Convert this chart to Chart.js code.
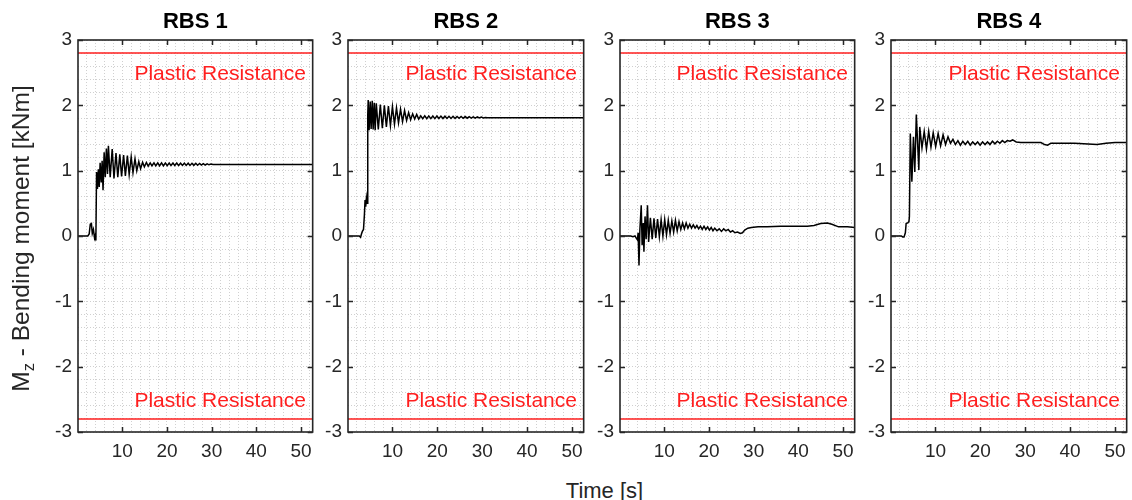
<!DOCTYPE html>
<html>
<head>
<meta charset="utf-8">
<script src="https://cdn.jsdelivr.net/npm/chart.js@4/dist/chart.umd.min.js"></script>
<style>
  html, body { margin: 0; padding: 0; background: #fff; }
  body { width: 1132px; height: 500px; overflow: hidden; position: relative; }
  canvas { position: absolute; top: 0; }
  #xtitle { position: absolute; left: 78px; width: 1053px; top: 478px; line-height: 24px;
            text-align: center; font: 22px 'Liberation Sans', Arial, sans-serif; color: #262626; }
</style>
</head>
<body>
<div id="xtitle">Time [s]</div>
<script>
// ---------------- DATA ----------------
const panelTitles = ['RBS 1', 'RBS 2', 'RBS 3', 'RBS 4'];
const timeRange = [0.1, 52.6];            // s
const xTickLabels = [10, 20, 30, 40, 50];
const yTickLabels = [-3, -2, -1, 0, 1, 2, 3];
const plasticResistance = 2.8;            // kNm
const plasticLabel = 'Plastic Resistance';

// [time (s), Mz (kNm)]
const rbs1 = [
  [0.1,0],[2.3,0],[2.6,0.03],[2.85,0.18],[3.1,0.19],[3.3,0.04],[3.55,0.1],[3.8,-0.03],[4.0,0.02],[4.1,-0.07],
  [4.25,0.98],[4.45,0.72],[4.65,1.02],[4.85,0.75],[5.05,1.12],[5.3,0.82],[5.5,1.15],[5.7,0.7],[5.95,1.28],[6.2,0.9],
  [6.45,1.34],[6.7,0.95],[6.9,1.38],[7.3,0.9],[7.75,1.33],[8.15,0.88],[8.6,1.27],[9.0,0.9],[9.45,1.25],[9.85,0.91],
  [10.3,1.24],[10.7,0.92],[11.15,1.23],[11.55,0.94],[12.0,1.21],[12.4,0.97],[12.85,1.18],[13.25,1.0],[13.7,1.14],[14.1,1.03],
  [14.55,1.13],[14.95,1.06],[15.4,1.125],[15.8,1.07],[16.25,1.12],[16.65,1.075],[17.1,1.12],[17.5,1.075],[17.95,1.12],[18.35,1.075],
  [18.8,1.12],[19.2,1.075],[19.65,1.118],[20.05,1.077],[20.5,1.117],[20.9,1.078],[21.35,1.116],[21.75,1.078],[22.2,1.116],[22.6,1.078],
  [23.05,1.115],[23.45,1.08],[23.9,1.115],[24.3,1.08],[24.75,1.114],[25.15,1.08],[25.6,1.113],[26.0,1.082],[26.45,1.112],[26.85,1.083],
  [27.3,1.11],[27.7,1.085],[28.15,1.108],[28.55,1.087],[29.0,1.105],[29.4,1.09],[29.85,1.1],[30.3,1.095],[52.6,1.095]
];
const rbs2 = [
  [0.1,0],[2.6,0],[2.9,-0.02],[3.1,0.03],[3.3,0.07],[3.55,0.1],[3.75,0.32],[3.9,0.55],[4.05,0.45],[4.2,0.58],[4.35,0.5],
  [4.5,1.85],[4.6,2.08],[4.8,1.62],[5.05,2.06],[5.25,1.64],[5.5,2.07],[5.7,1.63],[5.95,2.04],[6.15,1.62],[6.4,2.03],
  [6.85,1.63],[7.3,2.01],[7.75,1.65],[8.2,2.0],[8.65,1.67],[9.1,1.99],[9.55,1.69],[10.0,1.98],[10.45,1.71],[10.9,1.96],
  [11.35,1.73],[11.8,1.94],[12.25,1.75],[12.7,1.92],[13.15,1.77],[13.6,1.89],[14.05,1.78],[14.5,1.87],[14.95,1.79],[15.4,1.86],
  [15.85,1.79],[16.3,1.84],[16.75,1.795],[17.2,1.84],[17.65,1.795],[18.1,1.838],[18.55,1.797],[19.0,1.837],[19.45,1.797],[19.9,1.836],
  [20.35,1.798],[20.8,1.835],[21.25,1.798],[21.7,1.834],[22.15,1.799],[22.6,1.833],[23.05,1.8],[23.5,1.832],[23.95,1.8],[24.4,1.83],
  [24.85,1.801],[25.3,1.829],[25.75,1.802],[26.2,1.828],[26.65,1.803],[27.1,1.826],[27.55,1.804],[28.0,1.824],[28.45,1.805],[28.9,1.822],
  [29.35,1.806],[29.8,1.82],[30.25,1.808],[30.7,1.815],[31.2,1.81],[52.6,1.81]
];
const rbs3 = [
  [0.1,0],[2.5,0],[3.0,-0.01],[3.45,0.0],[3.7,-0.03],[4.0,-0.06],[4.15,0.05],[4.35,-0.45],[4.55,0.1],[4.85,0.47],
  [5.05,-0.14],[5.3,0.2],[5.45,-0.24],[5.7,0.3],[5.95,-0.05],[6.25,0.47],[6.5,-0.09],[6.9,0.28],[7.3,-0.05],[7.7,0.27],
  [8.1,-0.03],[8.5,0.26],[8.9,-0.01],[9.3,0.25],[9.7,0.0],[10.1,0.25],[10.5,0.02],[10.9,0.24],[11.3,0.04],[11.7,0.23],
  [12.1,0.06],[12.5,0.24],[12.9,0.08],[13.3,0.22],[13.7,0.1],[14.1,0.2],[14.5,0.11],[14.9,0.2],[15.3,0.12],[15.7,0.18],
  [16.1,0.12],[16.5,0.17],[16.9,0.12],[17.3,0.16],[17.7,0.11],[18.1,0.15],[18.5,0.1],[18.9,0.15],[19.3,0.1],[19.7,0.14],
  [20.1,0.09],[20.5,0.13],[20.9,0.08],[21.3,0.12],[21.8,0.08],[22.3,0.11],[22.8,0.07],[23.3,0.11],[23.8,0.08],[24.3,0.1],
  [24.8,0.06],[25.3,0.08],[25.8,0.05],[26.4,0.06],[27.0,0.04],[27.5,0.05],[28.0,0.09],[28.7,0.12],[29.5,0.13],[31.0,0.14],
  [33.0,0.14],[36.0,0.15],[39.0,0.15],[42.0,0.15],[43.5,0.16],[45.0,0.19],[46.5,0.2],[47.5,0.18],[49.0,0.14],[51.0,0.14],[52.6,0.13]
];
const rbs4 = [
  [0.1,0],[2.4,0],[2.7,-0.015],[3.0,-0.015],[3.3,0.05],[3.47,0.19],[3.8,0.2],[4.1,0.22],[4.2,0.3],[4.4,1.57],
  [4.75,0.83],[5.1,1.52],[5.4,0.98],[5.74,1.86],[6.3,1.01],[6.5,1.67],[7.0,1.35],[7.5,1.6],[8.0,1.33],[8.5,1.6],
  [9.0,1.36],[9.5,1.58],[10.05,1.37],[10.6,1.57],[11.15,1.38],[11.7,1.55],[12.25,1.4],[12.8,1.52],[13.35,1.42],[13.9,1.48],
  [14.45,1.4],[15.0,1.46],[15.55,1.39],[16.1,1.45],[16.65,1.4],[17.2,1.45],[17.75,1.39],[18.3,1.44],[18.85,1.4],[19.4,1.44],
  [19.95,1.39],[20.5,1.44],[21.05,1.4],[21.6,1.44],[22.15,1.4],[22.7,1.45],[23.25,1.41],[23.8,1.45],[24.35,1.42],[24.9,1.46],
  [25.45,1.43],[26.0,1.46],[26.6,1.45],[27.2,1.47],[28.0,1.44],[29.0,1.43],[31.0,1.43],[33.5,1.43],[34.3,1.4],[35.0,1.39],
  [35.7,1.42],[38.0,1.42],[41.0,1.42],[44.0,1.41],[46.0,1.4],[48.0,1.42],[50.0,1.43],[52.6,1.43]
];
const series = [rbs1, rbs2, rbs3, rbs4];

// ---------------- LAYOUT / STYLE ----------------
const FONT = "'Liberation Sans', Arial, sans-serif";
const AXIS = '#262626';
const GRID = '#d0d0d0';
const RED = '#ff1f1f';
const H = 500, PLOT_TOP = 40, PLOT_BOTTOM = 432;
const plotLefts = [78, 348, 620, 891];
const plotRights = [317, 588, 859, 1131];

const xGrid = []; for (let v = 2; v <= 52; v += 2) xGrid.push(v);
const yGrid = []; for (let k = -15; k <= 15; k++) yGrid.push(k / 5);

const deco = {
  id: 'deco',
  afterDraw(chart, args, opts) {
    const { ctx, chartArea: a, scales: { x, y } } = chart;
    ctx.save();
    // plastic resistance labels
    ctx.fillStyle = RED;
    ctx.font = `21px ${FONT}`;
    ctx.textAlign = 'right';
    ctx.textBaseline = 'alphabetic';
    const lx = x.getPixelForValue(51.1);
    ctx.fillText(plasticLabel, lx, y.getPixelForValue(2.5) + 7.5);
    ctx.fillText(plasticLabel, lx, y.getPixelForValue(-2.5) + 7.5);
    // frame
    ctx.strokeStyle = AXIS;
    ctx.lineWidth = 1.6;
    ctx.strokeRect(a.left, a.top, a.right - a.left, a.bottom - a.top);
    // inward ticks
    ctx.lineWidth = 1.5;
    ctx.beginPath();
    xTickLabels.forEach(v => {
      const px = Math.round(x.getPixelForValue(v)) + 0.5;
      ctx.moveTo(px, a.top); ctx.lineTo(px, a.top + 5);
      ctx.moveTo(px, a.bottom); ctx.lineTo(px, a.bottom - 5);
    });
    yTickLabels.forEach(v => {
      const py = Math.round(y.getPixelForValue(v)) + 0.5;
      ctx.moveTo(a.left, py); ctx.lineTo(a.left + 5, py);
      ctx.moveTo(a.right, py); ctx.lineTo(a.right - 5, py);
    });
    ctx.stroke();
    // title
    ctx.fillStyle = '#000';
    ctx.font = `bold 22px ${FONT}`;
    ctx.textAlign = 'center';
    ctx.fillText(opts.title, (a.left + a.right) / 2, 28);
    // y-axis title (first panel only)
    if (opts.index === 0) {
      ctx.fillStyle = AXIS;
      const big = `24.5px ${FONT}`, small = `16.5px ${FONT}`;
      const p1 = 'M', p2 = 'z', p3 = ' - Bending moment [kNm]';
      ctx.font = big; const w1 = ctx.measureText(p1).width, w3 = ctx.measureText(p3).width;
      ctx.font = small; const w2 = ctx.measureText(p2).width;
      const total = w1 + w2 + w3;
      ctx.translate(29, 238.5);
      ctx.rotate(-Math.PI / 2);
      ctx.textAlign = 'left';
      let cx = -total / 2;
      ctx.font = big; ctx.fillText(p1, cx, 0); cx += w1;
      ctx.font = small; ctx.fillText(p2, cx, 5); cx += w2;
      ctx.font = big; ctx.fillText(p3, cx, 0);
    }
    ctx.restore();
  }
};

panelTitles.forEach((title, i) => {
  const left = i === 0 ? 0 : plotLefts[i] - 50;
  const width = plotRights[i] - left + 1;
  const cv = document.createElement('canvas');
  cv.width = width; cv.height = H;
  cv.style.left = left + 'px'; cv.style.width = width + 'px'; cv.style.height = H + 'px';
  document.body.appendChild(cv);
  const yw = plotLefts[i] - left;
  const lineData = pts => pts.map(([x, y]) => ({ x, y }));
  new Chart(cv, {
    type: 'line',
    data: {
      datasets: [
        { data: lineData(series[i]), borderColor: '#000', borderWidth: 1.5, pointRadius: 0, tension: 0, fill: false },
        { data: timeRange.map(x => ({ x, y: plasticResistance })), borderColor: RED, borderWidth: 1.5, pointRadius: 0 },
        { data: timeRange.map(x => ({ x, y: -plasticResistance })), borderColor: RED, borderWidth: 1.5, pointRadius: 0 }
      ]
    },
    options: {
      responsive: false, animation: false, devicePixelRatio: 1,
      layout: { padding: { top: PLOT_TOP, right: 1, left: 0, bottom: 0 } },
      plugins: { legend: { display: false }, tooltip: { enabled: false }, deco: { title, index: i } },
      scales: {
        x: {
          type: 'linear', min: timeRange[0], max: timeRange[1],
          afterBuildTicks: s => { s.ticks = xGrid.map(v => ({ value: v })); },
          afterFit: s => { s.height = H - PLOT_BOTTOM; },
          grid: { color: GRID, lineWidth: 1, drawTicks: false },
          border: { display: false, dash: [1, 2] },
          ticks: { autoSkip: false, maxRotation: 0, padding: 8, color: AXIS,
                   font: { family: FONT, size: 19 },
                   callback: v => xTickLabels.includes(v) ? String(v) : '' }
        },
        y: {
          type: 'linear', min: -3, max: 3,
          afterBuildTicks: s => { s.ticks = yGrid.map(v => ({ value: v })); },
          afterFit: s => { s.width = yw; },
          grid: { color: GRID, lineWidth: 1, drawTicks: false },
          border: { display: false, dash: [1, 2] },
          ticks: { autoSkip: false, padding: 6, color: AXIS,
                   font: { family: FONT, size: 19 },
                   callback: v => { const r = Math.round(v); return Math.abs(v - r) < 1e-6 && yTickLabels.includes(r) ? String(r) : ''; } }
        }
      }
    },
    plugins: [deco]
  });
});
</script>
</body>
</html>
